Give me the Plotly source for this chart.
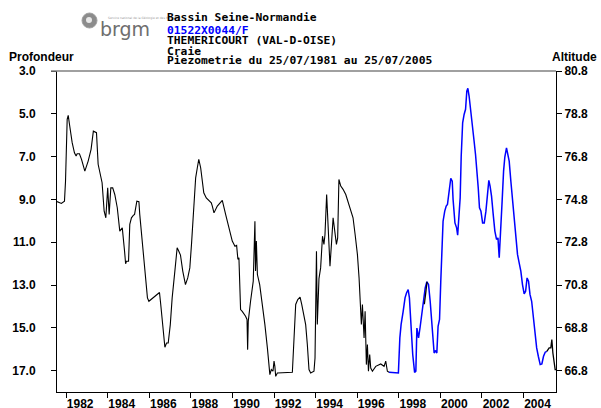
import pandas as pd
import plotly.graph_objects as go

# Piezometric level (depth below ground, m), x in decimal years
black_years = [
    1981.56, 1981.77, 1981.92, 1981.97, 1982.05, 1982.10, 1982.16, 1982.29, 1982.40, 1982.48,
    1982.53, 1982.64, 1982.74, 1982.90, 1983.06, 1983.20, 1983.31, 1983.41, 1983.46, 1983.54,
    1983.64, 1983.73, 1983.83, 1983.91, 1984.00, 1984.07, 1984.15, 1984.24, 1984.34, 1984.46,
    1984.58, 1984.70, 1984.81, 1984.86, 1984.90, 1985.00, 1985.06, 1985.14, 1985.23, 1985.29,
    1985.40, 1985.50, 1985.54, 1985.66, 1985.74, 1985.82, 1985.91, 1985.98, 1986.14, 1986.30,
    1986.49, 1986.55, 1986.65, 1986.75, 1986.83, 1986.91, 1987.01, 1987.10, 1987.23, 1987.34,
    1987.42, 1987.50, 1987.61, 1987.74, 1987.85, 1987.95, 1988.03, 1988.13, 1988.23, 1988.31,
    1988.38, 1988.47, 1988.55, 1988.62, 1988.74, 1988.87, 1988.98, 1989.03, 1989.11, 1989.27,
    1989.51, 1989.67, 1989.83, 1989.99, 1990.12, 1990.20, 1990.26, 1990.31, 1990.39, 1990.47,
    1990.63, 1990.70, 1990.73, 1990.76, 1990.87, 1991.00, 1991.08, 1991.11, 1991.15, 1991.20,
    1991.31, 1991.44, 1991.56, 1991.68, 1991.75, 1991.80, 1991.87, 1991.95, 1992.00, 1992.04,
    1992.08, 1992.16, 1992.88, 1992.96, 1993.04, 1993.14, 1993.25, 1993.33, 1993.44, 1993.52,
    1993.60, 1993.68, 1993.76, 1993.92, 1993.97, 1994.04, 1994.08, 1994.16, 1994.24, 1994.33,
    1994.40, 1994.45, 1994.53, 1994.61, 1994.69, 1994.76, 1994.84, 1994.92, 1995.00, 1995.06,
    1995.12, 1995.21, 1995.32, 1995.45, 1995.56, 1995.69, 1995.80, 1995.90, 1996.01, 1996.09,
    1996.14, 1996.20, 1996.25, 1996.33, 1996.38, 1996.44, 1996.49, 1996.54, 1996.60, 1996.65,
    1996.73, 1996.89, 1997.13, 1997.29, 1997.37, 1997.45, 1997.53,
]
black_depth = [
    9.10, 9.19, 9.08, 8.15, 5.26, 5.07, 5.49, 6.35, 6.82, 6.97,
    6.87, 6.87, 7.13, 7.68, 7.21, 6.66, 5.81, 5.84, 5.88, 7.36,
    7.75, 8.22, 9.55, 9.86, 8.46, 9.70, 8.46, 8.46, 8.77, 9.39,
    10.48, 10.33, 11.42, 12.01, 11.89, 11.89, 10.17, 9.86, 9.75, 9.70,
    9.08, 9.11, 9.70, 10.95, 11.50, 12.35, 13.60, 13.76, 13.63, 13.48,
    13.35, 13.91, 14.85, 15.91, 15.71, 15.71, 14.85, 13.60, 12.35, 11.26,
    11.42, 11.60, 12.35, 12.98, 12.67, 12.20, 11.10, 9.39, 7.99, 7.52,
    7.13, 7.52, 8.15, 8.69, 8.93, 9.08, 9.16, 9.31, 9.63, 9.31,
    9.05, 9.70, 10.33, 10.95, 11.19, 11.15, 11.80, 11.73, 14.15, 14.23,
    14.46, 14.61, 16.02, 14.69, 13.76, 12.82, 10.02, 12.35, 10.95, 12.51,
    12.98, 13.91, 14.85, 15.94, 16.72, 17.19, 16.95, 17.03, 16.56, 16.80,
    17.27, 17.11, 17.08, 15.16, 13.91, 13.68, 13.57, 13.91, 14.38, 14.85,
    15.78, 16.95, 17.11, 17.03, 16.41, 11.42, 14.85, 12.70, 12.20, 10.72,
    11.10, 10.64, 8.77, 10.48, 12.12, 11.10, 9.86, 10.48, 11.10, 10.80,
    8.07, 8.38, 8.53, 8.77, 9.08, 9.47, 9.86, 10.64, 11.57, 12.67,
    13.60, 14.85, 13.91, 15.47, 14.23, 16.72, 15.78, 17.03, 16.25, 16.88,
    17.03, 16.80, 16.69, 16.80, 16.56, 17.03, 17.08,
]

blue_years = [
    1997.53, 1997.98, 1998.05, 1998.11, 1998.21, 1998.30, 1998.37, 1998.45, 1998.51, 1998.59,
    1998.67, 1998.76, 1998.82, 1998.87, 1998.95, 1999.02, 1999.09, 1999.19, 1999.27, 1999.35,
    1999.43, 1999.51, 1999.62, 1999.70, 1999.77, 1999.83, 1999.89, 1999.96, 2000.02, 2000.07,
    2000.13, 2000.21, 2000.28, 2000.34, 2000.42, 2000.50, 2000.57, 2000.61, 2000.70, 2000.78,
    2000.83, 2000.89, 2000.95, 2001.00, 2001.07, 2001.14, 2001.21, 2001.27, 2001.32, 2001.38,
    2001.47, 2001.55, 2001.62, 2001.69, 2001.75, 2001.82, 2001.88, 2001.95, 2002.03, 2002.11,
    2002.19, 2002.27, 2002.33, 2002.39, 2002.46, 2002.54, 2002.62, 2002.70, 2002.77, 2002.83,
    2002.90, 2002.97, 2003.04, 2003.10, 2003.18, 2003.25, 2003.31, 2003.39, 2003.47, 2003.55,
    2003.63, 2003.71, 2003.79, 2003.87, 2003.95, 2004.03, 2004.10, 2004.17, 2004.24, 2004.31,
    2004.39, 2004.47, 2004.55, 2004.63, 2004.71, 2004.80, 2004.88, 2004.96, 2005.04, 2005.12,
]
blue_depth = [
    17.08, 17.11, 15.47, 14.85, 14.23, 13.60, 13.37, 13.21, 13.60, 15.16,
    16.25, 17.08, 17.03, 15.01, 15.47, 15.01, 14.54, 13.91, 13.13, 12.85,
    12.98, 13.76, 15.16, 16.18, 16.06, 16.18, 14.93, 14.61, 12.82, 10.95,
    10.02, 9.55, 9.31, 9.24, 8.46, 8.02, 8.15, 9.00, 10.10, 10.33,
    10.67, 9.55, 8.93, 6.98, 5.42, 5.03, 4.79, 3.94, 3.81, 4.17,
    4.87, 5.65, 6.27, 6.90, 7.52, 8.46, 9.39, 9.55, 10.10, 10.10,
    9.55, 8.46, 8.11, 8.38, 8.85, 9.70, 10.48, 10.87, 10.80, 11.73,
    10.02, 9.08, 7.68, 7.02, 6.59, 6.90, 7.21, 8.15, 8.93, 9.86,
    10.80, 11.57, 11.97, 12.35, 12.98, 13.42, 13.29, 12.67, 12.82, 13.44,
    13.76, 14.54, 15.32, 15.94, 16.33, 16.72, 16.69, 16.33, 16.14, 16.10,
]

# short unvalidated (black) stretches inside the blue period
black2_years = [1999.23, 1999.30, 1999.36]
black2_depth = [13.90, 13.20, 12.85]
black3_years = [2005.12, 2005.23, 2005.31, 2005.36, 2005.41, 2005.47, 2005.52, 2005.56]
black3_depth = [16.10, 15.94, 15.94, 15.55, 16.18, 16.72, 16.95, 16.95]

depth_ticks = [3.0, 5.0, 7.0, 9.0, 11.0, 13.0, 15.0, 17.0]
alt_ticks = [66.8, 68.8, 70.8, 72.8, 74.8, 76.8, 78.8, 80.8]
year_ticks = [1982, 1984, 1986, 1988, 1990, 1992, 1994, 1996, 1998, 2000, 2002, 2004]

header_lines = [
    ("Bassin Seine-Normandie", "black", 17.5),
    ("01522X0044/F", "#0000ff", 30.5),
    ("THEMERICOURT (VAL-D-OISE)", "black", 40.5),
    ("Craie", "black", 51.0),
    ("Piezometrie du 25/07/1981 au 25/07/2005", "black", 60.5),
]


def to_date(y):
    yr = int(y)
    start = pd.Timestamp(year=yr, month=1, day=1)
    end = pd.Timestamp(year=yr + 1, month=1, day=1)
    return start + (end - start) * (y - yr)


W, H = 601, 408
L, R, T, B = 57, 45, 71, 16
PW = W - L - R
PH = H - T - B


def px(xpx):
    # pixel column from left -> paper x
    return (xpx - L) / PW


def py(ypx):
    # pixel row from top -> paper y
    return (H - B - ypx) / PH


TICKFONT = dict(family="Liberation Sans", size=12, color="black", weight="bold")
MONO = dict(family="DejaVu Sans Mono", size=11.3, color="black", weight="bold")

fig = go.Figure()

segments = [
    (black_years, black_depth, "black", 1.1),
    (blue_years, blue_depth, "#0000ff", 1.5),
    (black2_years, black2_depth, "black", 1.3),
    (black3_years, black3_depth, "black", 1.3),
]
for yrs, dep, col, w in segments:
    fig.add_trace(
        go.Scatter(
            x=[to_date(v) for v in yrs],
            y=dep,
            mode="lines",
            line=dict(color=col, width=w),
            showlegend=False,
            hoverinfo="skip",
        )
    )

# invisible trace to attach the altitude axis
fig.add_trace(
    go.Scatter(
        x=[to_date(black_years[0])],
        y=[83.8 - black_depth[0]],
        yaxis="y2",
        mode="lines",
        line=dict(width=0),
        showlegend=False,
        hoverinfo="skip",
    )
)

fig.update_layout(
    template="none",
    width=W,
    height=H,
    margin=dict(l=L, r=R, t=T, b=B, pad=0),
    paper_bgcolor="white",
    plot_bgcolor="white",
    xaxis=dict(
        type="date",
        automargin=False,
        range=[to_date(1981.56), to_date(2005.56)],
        tickvals=[to_date(y) for y in year_ticks],
        ticktext=[str(y) for y in year_ticks],
        ticks="outside",
        ticklen=5,
        tickcolor="black",
        tickfont=TICKFONT,
        ticklabelshift=14,
        ticklabelstandoff=-4,
        showline=True,
        linecolor="black",
        linewidth=1,
        showgrid=False,
        zeroline=False,
    ),
    yaxis=dict(
        automargin=False,
        range=[18.0, 3.0],
        tickvals=depth_ticks,
        ticktext=[f"{v:.1f}" for v in depth_ticks],
        ticks="outside",
        ticklen=5,
        tickcolor="black",
        tickfont=TICKFONT,
        ticklabelstandoff=13,
        showline=True,
        linecolor="black",
        linewidth=1,
        showgrid=False,
        zeroline=False,
    ),
    yaxis2=dict(
        automargin=False,
        overlaying="y",
        side="right",
        range=[65.8, 80.8],
        tickvals=alt_ticks,
        ticktext=[f"{v:.1f}" for v in alt_ticks],
        ticks="outside",
        ticklen=5,
        tickcolor="black",
        tickfont=TICKFONT,
        showline=True,
        linecolor="black",
        linewidth=1,
        showgrid=False,
        zeroline=False,
    ),
)

# gray top frame line
fig.add_shape(
    type="line", xref="paper", yref="paper", x0=px(51), x1=1.0, y0=1, y1=1,
    line=dict(color="#808080", width=1.5),
)

# brgm logo (approximation)
fig.add_shape(
    type="circle", xref="paper", yref="paper",
    x0=px(82), x1=px(97), y0=py(28), y1=py(13),
    fillcolor="#8c8c8c", line=dict(color="#a0a0a0", width=1),
)
fig.add_shape(
    type="circle", xref="paper", yref="paper",
    x0=px(86), x1=px(92), y0=py(23), y1=py(17),
    fillcolor="#e8e8e8", line=dict(width=0),
)
fig.add_annotation(
    x=px(98), y=py(29), xref="paper", yref="paper",
    text="brgm", showarrow=False, xanchor="left", yanchor="middle",
    font=dict(family="DejaVu Sans", size=19, color="#6e6e6e"),
)
fig.add_annotation(
    x=px(106), y=py(18), xref="paper", yref="paper",
    text="Service national de la Géologie et des Mines", showarrow=False,
    xanchor="left", yanchor="middle",
    font=dict(family="DejaVu Sans", size=3, color="#9a9a9a"),
)

for txt, col, ypx in header_lines:
    fig.add_annotation(
        x=px(165), y=py(ypx), xref="paper", yref="paper",
        text=txt, showarrow=False, xanchor="left", yanchor="middle",
        font=dict(MONO, color=col),
    )

fig.add_annotation(
    x=px(7), y=py(57), xref="paper", yref="paper",
    text="Profondeur", showarrow=False, xanchor="left", yanchor="middle",
    font=TICKFONT,
)
fig.add_annotation(
    x=px(599), y=py(57), xref="paper", yref="paper",
    text="Altitude", showarrow=False, xanchor="right", yanchor="middle",
    font=TICKFONT,
)

# page body margin would shift the whole figure by 8px
fig.write_html(
    "out.html",
    config={"displayModeBar": False},
    post_script="document.body.style.margin='0';",
)
